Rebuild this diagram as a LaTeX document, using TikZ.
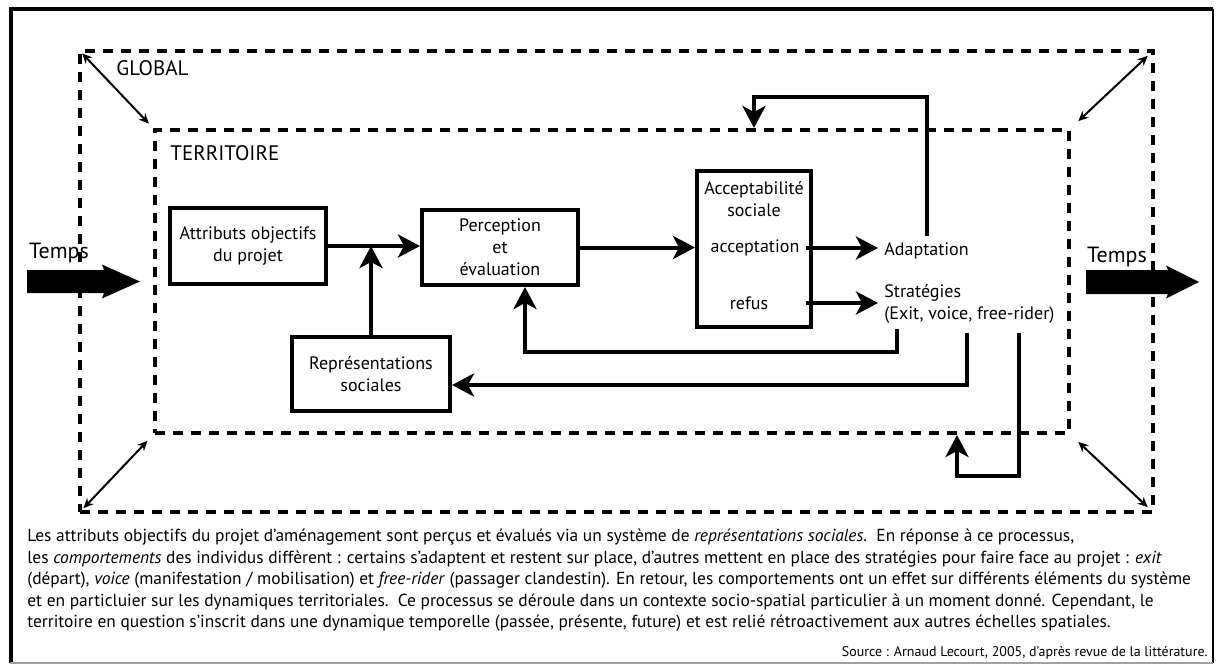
\documentclass[tikz,border=0pt]{standalone}
\usepackage{fontspec}
\setmainfont{PT Sans}
\usetikzlibrary{arrows.meta, positioning, calc}
\definecolor{cadre}{RGB}{160, 160, 160}
\tikzset{
  boite/.style={draw, line width=2pt, align=center, inner sep=0pt, font=\fontsize{9}{11}\selectfont},
  texte/.style={inner sep=3pt, align=center, font=\fontsize{9}{11}\selectfont},
  titre/.style={inner sep=3pt, font=\fontsize{10.5}{12}\selectfont},
  pointille/.style={draw, line width=2pt, dash pattern=on 5pt off 4pt},
  fleche/.style={line width=2pt, -{Stealth[length=11pt, width=11.5pt, inset=3pt]}},
  lien/.style={line width=1pt, {Stealth[length=5pt, width=4.5pt]}-{Stealth[length=5pt, width=4.5pt]}, shorten <=3pt, shorten >=3pt}
}

\begin{document}
\begin{tikzpicture}[x=0.5pt, y=-0.5pt]
  \useasboundingbox (0,0) rectangle (1216,664);

  % cadre
  \draw[line width=2pt] (10.5,663) -- (10.5,9) -- (1213,9);
  \draw[line width=1pt] (1213,9) -- (1213,663);
  \draw[cadre, line width=1pt] (10,662.5) -- (1213,662.5);

  % echelles spatiales
  \node[pointille, minimum width=536.5pt, minimum height=230.5pt] (glob) at (616.5,281.5) {};
  \node[pointille, minimum width=457pt, minimum height=151.5pt] (terr) at (612,281.5) {};
  \node[titre, anchor=west] (lglob) at (110,68) {GLOBAL};
  \node[titre, anchor=west] (lterr) at (164,153) {TERRITOIRE};
  \draw[lien] (glob.north west) -- (terr.north west);
  \draw[lien, shorten <=5pt, shorten >=5pt] (glob.north east) -- (terr.north east);
  \draw[lien, shorten <=4pt, shorten >=4pt] (glob.south west) -- (terr.south west);
  \draw[lien, shorten <=5pt, shorten >=5pt] (glob.south east) -- (terr.south east);

  % temps
  \fill (27,270) -- (104,270) -- (102,264.5) -- (140,281.5) -- (102,298.5) -- (104,293) -- (27,293) -- cycle;
  \fill (1086,270) -- (1168,270) -- (1166,265.5) -- (1199,282) -- (1166,298.5) -- (1168,294) -- (1086,294) -- cycle;
  \node[titre, font=\fontsize{11}{13}\selectfont] (tgauche) at (59,253) {Temps};
  \node[titre, font=\fontsize{11}{13}\selectfont] (tdroite) at (1117,257) {Temps};

  % boites
  \node[boite, minimum width=78pt, minimum height=38pt] (attr) at (248,246) {Attributs objectifs\\du projet};
  \node[boite, minimum width=78pt, minimum height=37.5pt] (perc) at (500,247.5) {Perception\\et\\évaluation};
  \node[boite, minimum width=57pt, minimum height=78pt] (accep) at (754,249) {};
  \node[boite, minimum width=79pt, minimum height=37pt] (repr) at (371,374) {Représentations\\sociales};
  \node[texte] (acctitre) at (754,199) {Acceptabilité\\sociale};
  \node[texte] (accept) at (755,248) {acceptation};
  \node[texte] (refus) at (749,303) {refus};
  \node[texte, anchor=west] (adapt) at (878,251) {Adaptation};
  \node[texte, anchor=west, align=left] (strat) at (878,304) {Stratégies\\(Exit, voice, free-rider)};

  % fleches
  \draw[fleche] (attr.east) -- (attr.east -| perc.west);
  \draw[fleche] (repr.north) -- (repr.north |- attr.east);
  \draw[fleche] (perc.east) -- (perc.east -| accep.west);
  \draw[fleche] (accept.east) -- (accept.east -| adapt.west);
  \draw[fleche] (refus.east -| accept.east) -- (refus.east -| strat.west);

  % retroactions
  \coordinate (haut) at (754,97);
  \coordinate (s1) at (897,329);
  \coordinate (s2) at (967,333);
  \coordinate (s3) at (1019,333);
  \coordinate (b1) at (525,352);
  \coordinate (b2) at (967,385);
  \coordinate (b3) at (957,476);
  \draw[fleche] (adapt.north) |- (haut) -- (haut |- terr.north);
  \draw[fleche] (s1) |- (b1) -- (b1 |- perc.south);
  \draw[fleche] (s2) -- (b2) -- (b2 -| repr.east);
  \draw[fleche] (s3) |- (b3) -- (b3 |- terr.south);

  % commentaire
  \node[inner sep=0pt, anchor=north west, align=left, font=\fontsize{8.7}{10.75}\selectfont] (legende) at (27,529) {%
    Les attributs objectifs du projet d'aménagement sont perçus et évalués via un système de \textit{représentations sociales}.\ \ En réponse à ce processus,\\
    les \textit{comportements} des individus diffèrent : certains s'adaptent et restent sur place, d'autres mettent en place des stratégies pour faire face au projet : \textit{exit}\\
    (départ), \textit{voice} (manifestation / mobilisation) et \textit{free-rider} (passager clandestin). En retour, les comportements ont un effet sur différents éléments du système\\
    et en particluier sur les dynamiques territoriales.\ \ Ce processus se déroule dans un contexte socio-spatial particulier à un moment donné. Cependant, le\\
    territoire en question s'inscrit dans une dynamique temporelle (passée, présente, future) et est relié rétroactivement aux autres échelles spatiales.};
  \node[inner sep=0pt, anchor=base east, font=\fontsize{7}{8}\selectfont] (source) at (1208,656) {Source : Arnaud Lecourt, 2005, d'après revue de la littérature.};
\end{tikzpicture}
\end{document}
